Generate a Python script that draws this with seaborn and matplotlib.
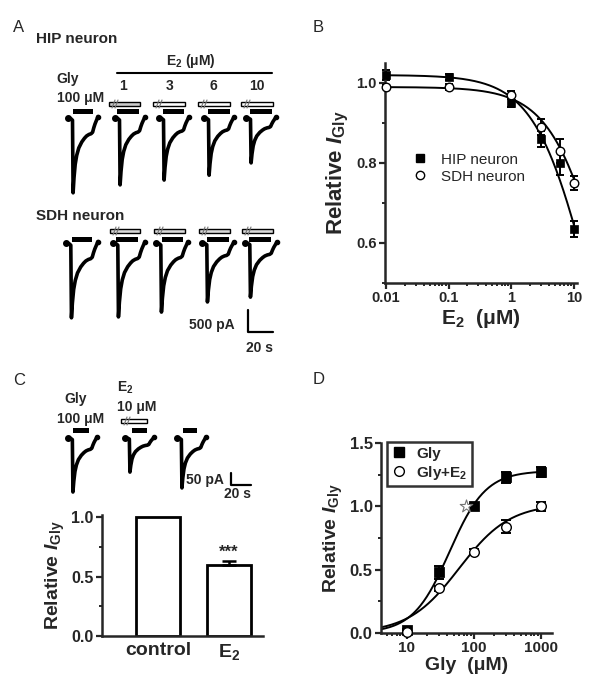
import numpy as np
import pandas as pd
import matplotlib
matplotlib.use("Agg")
import matplotlib.pyplot as plt
import seaborn as sns
from matplotlib.patches import Rectangle
from matplotlib.lines import Line2D
from matplotlib.ticker import LogLocator, NullFormatter, FixedLocator

# ---------------- DATA ----------------
# Panel A: peak glycine currents (pA) for control and E2 1, 3, 6, 10 uM
a_e2_labels = ["1", "3", "6", "10"]
hip_peaks_pA = [1700, 1520, 1410, 1300, 1020]
sdh_peaks_pA = [1700, 1680, 1570, 1340, 1230]
# normalised current-trace template (fraction of sweep, fraction of peak)
trace_u = [0.0, 0.10, 0.15, 0.17, 0.20, 0.24, 0.29, 0.36, 0.46, 0.55, 0.62, 0.70, 0.77, 0.82, 0.86, 0.90, 0.95, 1.0]
trace_f = [0.0, 0.01, 0.03, 1.0, 0.80, 0.62, 0.50, 0.40, 0.32, 0.27, 0.24, 0.22, 0.21, 0.19, 0.13, 0.08, 0.03, -0.02]

# Panel B: relative I_Gly vs E2
b_conc = [0.01, 0.1, 1, 3, 6, 10]
b_hip = [1.02, 1.015, 0.95, 0.86, 0.80, 0.635]
b_hip_err = [0.012, 0.008, 0.01, 0.02, 0.03, 0.02]
b_sdh = [0.99, 0.99, 0.97, 0.89, 0.83, 0.75]
b_sdh_err = [0.006, 0.008, 0.01, 0.02, 0.03, 0.018]
b_hip_top, b_hip_ic50 = 1.02, 17.2
b_sdh_top, b_sdh_ic50 = 0.99, 33.0

# Panel C
c_peaks_pA = [225, 142, 208]
c_labels = ["control", r"$\mathrm{E}_\mathrm{2}$"]
c_values = [1.0, 0.60]
c_err = [0.0, 0.03]

# Panel D: concentration-response
d_gly = [10, 30, 100, 300, 1000]
d_ctrl = [0.02, 0.48, 1.0, 1.23, 1.27]
d_ctrl_err = [0.015, 0.05, 0.02, 0.045, 0.04]
d_e2 = [0.01, 0.355, 0.64, 0.84, 1.0]
d_e2_err = [0.012, 0.02, 0.02, 0.05, 0.035]
d_star = (77, 1.0)
d_ctrl_fit = dict(top=1.28, ec50=43.0, n=1.6)
d_e2_fit = dict(top=1.02, ec50=60.0, n=1.15)

# ---------------- STYLE ----------------
sns.set_style("ticks")
plt.rcParams["font.family"] = ["Liberation Sans", "DejaVu Sans"]
plt.rcParams["font.weight"] = "bold"
plt.rcParams["axes.labelweight"] = "bold"
plt.rcParams["mathtext.fontset"] = "custom"
plt.rcParams["mathtext.rm"] = "Liberation Sans:bold"
plt.rcParams["mathtext.it"] = "Liberation Sans:bold:italic"
plt.rcParams["mathtext.bf"] = "Liberation Sans:bold"

W, H = 600, 689
fig = plt.figure(figsize=(6, 6.89), dpi=100)
fig.patch.set_facecolor("white")

def frac(x0, y_top, x1, y_bot):
    return [x0 / W, 1 - y_bot / H, (x1 - x0) / W, (y_bot - y_top) / H]

# overlay axes in pixel coordinates for traces and annotations
ax0 = fig.add_axes([0, 0, 1, 1])
ax0.set_xlim(0, W)
ax0.set_ylim(H, 0)
ax0.axis("off")

def txt(x, y, s, size=9.5, ha="left", weight="bold"):
    ax0.text(x, y, s, fontsize=size, ha=ha, va="baseline", fontweight=weight)

def trace(x0, y0, width, amp_px):
    xs = x0 + np.array(trace_u) * width
    ys = y0 + np.array(trace_f) * amp_px
    ax0.plot(xs, ys, color="black", lw=2.6, solid_joinstyle="round", solid_capstyle="round")
    ax0.plot([xs[0]], [ys[0]], "o", ms=4, color="black")
    ax0.plot([xs[-1]], [ys[-1]], "o", ms=3, color="black")

def black_bar(x0, x1, y, h=5):
    ax0.add_patch(Rectangle((x0, y), x1 - x0, h, color="black", lw=0))

def open_bar(x0, x1, y, h=4, fc="white"):
    ax0.add_patch(Rectangle((x0, y), x1 - x0, h, facecolor=fc, edgecolor="black", lw=1.0))
    for dx in (3, 6):
        ax0.plot([x0 + dx, x0 + dx + 3], [y + h + 2, y - 2], color="0.45", lw=0.8)

# panel letters
for lx, ly, s in [(13, 32, "A"), (313, 32, "B"), (13, 385, "C"), (313, 384, "D")]:
    txt(lx, ly, s, size=12, weight="normal")

# ---------------- PANEL A ----------------
pxA = 22 / 500.0
txt(36, 43, "HIP neuron", size=11)
txt(191, 65, r"$\mathrm{E}_\mathrm{2}$ (μM)", size=10, ha="center")
ax0.plot([117, 272], [73, 73], color="black", lw=1.5)
txt(56, 83, "Gly", size=10)
for cx, lab in zip([123, 170, 213, 257], a_e2_labels):
    txt(cx, 90, lab, size=10, ha="center")
txt(57, 102, "100 μM", size=10)

open_x = [(109, 140), (153, 185), (198, 230), (241, 273)]
black_x = [(73, 93), (117, 139), (163, 184), (208, 230), (250, 272)]
for i, (a, b) in enumerate(open_x):
    open_bar(a, b, 102, fc="0.8" if i == 0 else "white")
for a, b in black_x:
    black_bar(a, b, 109)
for x0, pk in zip([68, 115, 159, 204, 246], hip_peaks_pA):
    trace(x0, 118, 30, pk * pxA)

txt(36, 220, "SDH neuron", size=11)
for a, b in open_x:
    open_bar(a + 1, b, 229, fc="0.85")
for a, b in black_x:
    black_bar(a - 1, b - 1, 237)
for x0, pk in zip([66, 113, 156, 202, 245], sdh_peaks_pA):
    trace(x0, 243, 32, pk * pxA)

# scale bar A (500 pA, 20 s)
ax0.plot([248, 248, 273], [310, 332, 332], color="black", lw=1.6)
txt(235, 329, "500 pA", size=10, ha="right")
txt(260, 352, "20 s", size=10, ha="center")

# ---------------- PANEL C traces ----------------
pxC = 12 / 50.0
txt(64, 403, "Gly", size=10)
txt(57, 423, "100 μM", size=10)
txt(117, 392, r"$\mathrm{E}_\mathrm{2}$", size=10)
txt(117, 411, "10 μM", size=10)
open_bar(121, 147, 419)
for a, b in [(73, 89), (132, 147), (183, 197)]:
    black_bar(a, b, 428)
for x0, pk in zip([68, 125, 177], c_peaks_pA):
    trace(x0, 438, 29, pk * pxC)
ax0.plot([231, 231, 251], [473, 485, 485], color="black", lw=1.6)
txt(224, 484, "50 pA", size=10, ha="right")
txt(238, 498, "20 s", size=10, ha="center")

# ---------------- common axis styling ----------------
def style(ax):
    sns.despine(ax=ax)
    for sp in ("left", "bottom"):
        ax.spines[sp].set_linewidth(1.8)
    ax.tick_params(which="major", length=4, width=1.6, direction="out", pad=2)
    ax.tick_params(which="minor", length=2.5, width=1.4, direction="out")

ylab = r"Relative $I_{\mathrm{Gly}}$"

# ---------------- PANEL B ----------------
axb = fig.add_axes(frac(385, 63, 577, 283))
axb.set_xscale("log")
xf = np.logspace(-2, 1, 200)
hip_fit = b_hip_top / (1 + xf / b_hip_ic50)
sdh_fit = b_sdh_top / (1 + xf / b_sdh_ic50)
sns.lineplot(x=xf, y=hip_fit, ax=axb, color="black", lw=1.4)
sns.lineplot(x=xf, y=sdh_fit, ax=axb, color="black", lw=1.4)
axb.errorbar(b_conc, b_hip, yerr=b_hip_err, fmt="none", ecolor="black", elinewidth=1.4, capsize=3, capthick=1.4, clip_on=False)
axb.errorbar(b_conc, b_sdh, yerr=b_sdh_err, fmt="none", ecolor="black", elinewidth=1.4, capsize=3, capthick=1.4, clip_on=False)
sns.scatterplot(x=b_conc, y=b_hip, ax=axb, marker="s", s=38, color="black", edgecolor="black", zorder=5, clip_on=False)
sns.scatterplot(x=b_conc, y=b_sdh, ax=axb, marker="o", s=38, facecolor="white", edgecolor="black", linewidth=1.0, zorder=6, clip_on=False)
axb.set_xlim(0.0097, 11.2)
axb.set_ylim(0.5, 1.05)
axb.set_xticks([0.01, 0.1, 1, 10], ["0.01", "0.1", "1", "10"])
axb.xaxis.set_minor_locator(LogLocator(base=10, subs=np.arange(2, 10)))
axb.xaxis.set_minor_formatter(NullFormatter())
axb.set_yticks([0.6, 0.8, 1.0], ["0.6", "0.8", "1.0"])
axb.yaxis.set_minor_locator(FixedLocator([0.5, 0.7, 0.9]))
style(axb)
axb.tick_params(labelsize=10.5)
axb.set_xlabel(r"$\mathrm{E}_\mathrm{2}$  (μM)", fontsize=15, labelpad=1)
axb.set_ylabel(ylab, fontsize=16, labelpad=4)
hb = [Line2D([], [], marker="s", ls="none", color="black", ms=6),
      Line2D([], [], marker="o", ls="none", mfc="white", mec="black", ms=6)]
axb.legend(hb, ["HIP neuron", "SDH neuron"], loc="upper left", bbox_to_anchor=(0.07, 0.62),
           frameon=False, handletextpad=0.4, labelspacing=0.2, borderaxespad=0,
           prop={"size": 11, "weight": "normal"})

# ---------------- PANEL C bar chart ----------------
axc = fig.add_axes(frac(102, 515, 263, 636))
cdf = pd.DataFrame({"cond": c_labels, "val": c_values})
sns.barplot(data=cdf, x="cond", y="val", ax=axc, color="white", saturation=1,
            edgecolor="black", linewidth=2, width=0.62, errorbar=None)
axc.errorbar([1], [c_values[1]], yerr=[[0], [c_err[1]]], fmt="none", ecolor="black",
             elinewidth=1.8, capsize=5, capthick=1.8)
axc.text(1, 0.645, "***", ha="center", va="bottom", fontsize=12, fontweight="bold")
axc.set_xlim(-0.79, 1.48)
axc.set_ylim(0, 1.02)
axc.set_yticks([0.0, 0.5, 1.0], ["0.0", "0.5", "1.0"])
axc.yaxis.set_minor_locator(FixedLocator([0.25, 0.75]))
style(axc)
axc.tick_params(axis="x", length=0, labelsize=14, pad=4)
axc.tick_params(axis="y", labelsize=11.5)
axc.set_xlabel("")
axc.set_ylabel(ylab, fontsize=14, labelpad=3)

# ---------------- PANEL D ----------------
axd = fig.add_axes(frac(381, 443, 552, 633))
axd.set_xscale("log")
xg = np.logspace(np.log10(4.1), 3, 200)
f1 = d_ctrl_fit["top"] / (1 + (d_ctrl_fit["ec50"] / xg) ** d_ctrl_fit["n"])
f2 = d_e2_fit["top"] / (1 + (d_e2_fit["ec50"] / xg) ** d_e2_fit["n"])
sns.lineplot(x=xg, y=f1, ax=axd, color="black", lw=1.4)
sns.lineplot(x=xg, y=f2, ax=axd, color="black", lw=1.4)
axd.errorbar(d_gly, d_ctrl, yerr=d_ctrl_err, fmt="none", ecolor="black", elinewidth=1.4, capsize=3.5, capthick=1.4, clip_on=False)
axd.errorbar(d_gly, d_e2, yerr=d_e2_err, fmt="none", ecolor="black", elinewidth=1.4, capsize=3.5, capthick=1.4, clip_on=False)
sns.scatterplot(x=d_gly, y=d_ctrl, ax=axd, marker="s", s=48, color="black", edgecolor="black", zorder=5, clip_on=False)
sns.scatterplot(x=d_gly, y=d_e2, ax=axd, marker="o", s=48, facecolor="white", edgecolor="black", linewidth=1.0, zorder=6, clip_on=False)
axd.scatter([d_star[0]], [d_star[1]], marker="*", s=90, facecolor="white", edgecolor="0.45", linewidth=0.8, zorder=7)
axd.set_xlim(4.1, 1460)
axd.set_ylim(0, 1.5)
axd.set_xticks([10, 100, 1000], ["10", "100", "1000"])
axd.xaxis.set_minor_locator(LogLocator(base=10, subs=np.arange(2, 10)))
axd.xaxis.set_minor_formatter(NullFormatter())
axd.set_yticks([0.0, 0.5, 1.0, 1.5], ["0.0", "0.5", "1.0", "1.5"])
axd.yaxis.set_minor_locator(FixedLocator([0.25, 0.75, 1.25]))
style(axd)
axd.tick_params(axis="x", labelsize=11)
axd.tick_params(axis="y", labelsize=12)
axd.set_xlabel("Gly  (μM)", fontsize=14, labelpad=1)
axd.set_ylabel(ylab, fontsize=14, labelpad=3)
hd = [Line2D([], [], marker="s", ls="none", color="black", ms=7),
      Line2D([], [], marker="o", ls="none", mfc="white", mec="black", ms=7)]
leg = axd.legend(hd, ["Gly", r"Gly+$\mathrm{E}_\mathrm{2}$"], loc="upper left", bbox_to_anchor=(0.035, 1.005),
                 frameon=True, fancybox=False, edgecolor="black", handletextpad=0.6, labelspacing=0.2,
                 borderaxespad=0, borderpad=0.3, handlelength=1.0, prop={"size": 11, "weight": "bold"})
leg.get_frame().set_linewidth(1.8)

fig.savefig("out.png", dpi=100, facecolor="white")
